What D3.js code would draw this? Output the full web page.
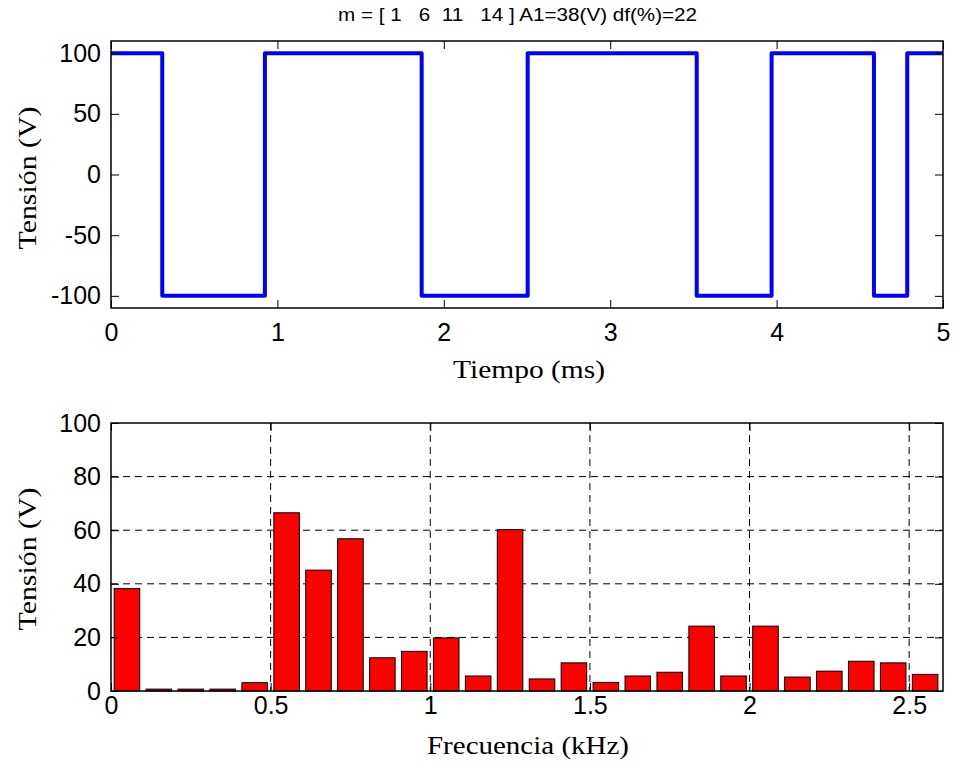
<!DOCTYPE html>
<html>
<head>
<meta charset="utf-8">
<script src="https://cdn.jsdelivr.net/npm/d3@7"></script>
<style>
  body { margin: 0; background: #fff; }
  svg { display: block; }
  .tick text { font-family: "Liberation Sans", Arial, sans-serif; font-size: 25px; fill: #000; }
  .lbl { font-family: "Liberation Serif", "Times New Roman", serif; font-size: 25px; fill: #000; }
</style>
</head>
<body>
<svg id="chart" width="954" height="766"></svg>
<script>
'use strict';

// switching instants of the quarter wave (ms), starts at +100
var switchTimes = [0, 0.308, 0.925, 1.867, 2.504, 3.52, 3.97, 4.585, 4.785, 5];
var levels = [100, -100, 100, -100, 100, -100, 100, -100, 100];

// harmonic spectrum (kHz, V)
var freqs = [0.05, 0.15, 0.25, 0.35, 0.45, 0.55, 0.65, 0.75, 0.85, 0.95, 1.05, 1.15, 1.25,
             1.35, 1.45, 1.55, 1.65, 1.75, 1.85, 1.95, 2.05, 2.15, 2.25, 2.35, 2.45, 2.55];
var amps = [38.2, 0.7, 0.7, 0.7, 3.1, 66.5, 45.1, 56.8, 12.4, 14.8, 19.8, 5.6, 60.2,
            4.5, 10.5, 3.2, 5.6, 7.0, 24.2, 5.6, 24.2, 5.2, 7.4, 11.1, 10.5, 6.2];

var topXTicks = [0, 1, 2, 3, 4, 5];
var topYTicks = [-100, -50, 0, 50, 100];
var botXTicks = [0, 0.5, 1, 1.5, 2, 2.5];
var botYTicks = [0, 20, 40, 60, 80, 100];

var svg = d3.select('#chart');
var tickLen = 8;
var fmt = function(d) { return String(d); }; // plain hyphen minus like matlab

var left = 111, right = 943;

// ---------- top plot ----------
var t1 = 41, b1 = 308;
var x1 = d3.scaleLinear().domain([0, 5]).range([left, right]);
var y1 = d3.scaleLinear().domain([-110, 110]).range([b1, t1]);

var g1 = svg.append('g');

var pts = [];
for (var i = 0; i < levels.length; i++) {
	pts.push([switchTimes[i], levels[i]]);
	pts.push([switchTimes[i + 1], levels[i]]);
}

g1.append('path')
	.datum(pts)
	.attr('fill', 'none')
	.attr('stroke', '#0000ff')
	.attr('stroke-width', 4)
	.attr('stroke-linejoin', 'round')
	.attr('d', d3.line().x(function(d) { return x1(d[0]); }).y(function(d) { return y1(d[1]); }));

var drawAxes = function(g, x, y, xt, yt, top, bottom, xpad) {
	g.append('g')
		.attr('transform', 'translate(0,' + bottom + ')')
		.call(d3.axisBottom(x).tickValues(xt).tickSize(-tickLen).tickPadding(xpad).tickFormat(fmt))
		.call(function(a) { a.select('.domain').remove(); });
	g.append('g')
		.attr('transform', 'translate(0,' + top + ')')
		.call(d3.axisTop(x).tickValues(xt).tickSize(-tickLen).tickFormat(''))
		.call(function(a) { a.select('.domain').remove(); });
	g.append('g')
		.attr('transform', 'translate(' + left + ',0)')
		.call(d3.axisLeft(y).tickValues(yt).tickSize(-tickLen).tickPadding(10).tickFormat(fmt))
		.call(function(a) { a.select('.domain').remove(); });
	g.append('g')
		.attr('transform', 'translate(' + right + ',0)')
		.call(d3.axisRight(y).tickValues(yt).tickSize(-tickLen).tickFormat(''))
		.call(function(a) { a.select('.domain').remove(); });
	g.append('rect')
		.attr('x', left).attr('y', top)
		.attr('width', right - left).attr('height', bottom - top)
		.attr('fill', 'none').attr('stroke', '#000').attr('stroke-width', 1.5);
};

drawAxes(g1, x1, y1, topXTicks, topYTicks, t1, b1, 15);

svg.append('text')
	.attr('x', 338).attr('y', 21)
	.attr('textLength', 359)
	.attr('lengthAdjust', 'spacingAndGlyphs')
	.style('font-family', '"Liberation Sans", Arial, sans-serif')
	.style('font-size', '18px')
	.style('white-space', 'pre')
	.text('m = [ 1   6  11   14 ] A1=38(V) df(%)=22');

svg.append('text').attr('class', 'lbl')
	.attr('x', 529).attr('y', 378)
	.attr('text-anchor', 'middle')
	.attr('textLength', 152)
	.attr('lengthAdjust', 'spacingAndGlyphs')
	.text('Tiempo (ms)');

svg.append('text').attr('class', 'lbl')
	.attr('transform', 'translate(36,178) rotate(-90)')
	.attr('text-anchor', 'middle')
	.attr('textLength', 143)
	.attr('lengthAdjust', 'spacingAndGlyphs')
	.text('Tensión (V)');

// ---------- bottom plot ----------
var t2 = 423, b2 = 691;
var x2 = d3.scaleLinear().domain([0, 2.606]).range([left, right]);
var y2 = d3.scaleLinear().domain([0, 100]).range([b2, t2]);

var g2 = svg.append('g');

var grid = g2.append('g')
	.attr('stroke', '#000')
	.attr('stroke-width', 1)
	.attr('stroke-dasharray', '7,5');
grid.selectAll('line.gx')
	.data(botXTicks.filter(function(d) { return d > 0; }))
	.enter().append('line')
	.attr('x1', function(d) { return x2(d); }).attr('x2', function(d) { return x2(d); })
	.attr('y1', t2).attr('y2', b2);
grid.selectAll('line.gy')
	.data(botYTicks.filter(function(d) { return d > 0 && d < 100; }))
	.enter().append('line')
	.attr('y1', function(d) { return y2(d); }).attr('y2', function(d) { return y2(d); })
	.attr('x1', left).attr('x2', right);

var barW = (x2(0.1) - x2(0)) * 0.8;
g2.append('g').selectAll('rect')
	.data(freqs)
	.enter().append('rect')
	.attr('x', function(d) { return Math.max(left, x2(d) - barW / 2); })
	.attr('width', function(d) { return x2(d) + barW / 2 - Math.max(left, x2(d) - barW / 2); })
	.attr('y', function(d, i) { return y2(amps[i]); })
	.attr('height', function(d, i) { return y2(0) - y2(amps[i]); })
	.attr('fill', '#ff0000')
	.attr('stroke', '#000')
	.attr('stroke-width', 1);

drawAxes(g2, x2, y2, botXTicks, botYTicks, t2, b2, 5);

svg.append('text').attr('class', 'lbl')
	.attr('x', 528).attr('y', 754)
	.attr('text-anchor', 'middle')
	.attr('textLength', 202)
	.attr('lengthAdjust', 'spacingAndGlyphs')
	.text('Frecuencia (kHz)');

svg.append('text').attr('class', 'lbl')
	.attr('transform', 'translate(36,559) rotate(-90)')
	.attr('text-anchor', 'middle')
	.attr('textLength', 143)
	.attr('lengthAdjust', 'spacingAndGlyphs')
	.text('Tensión (V)');
</script>
</body>
</html>
